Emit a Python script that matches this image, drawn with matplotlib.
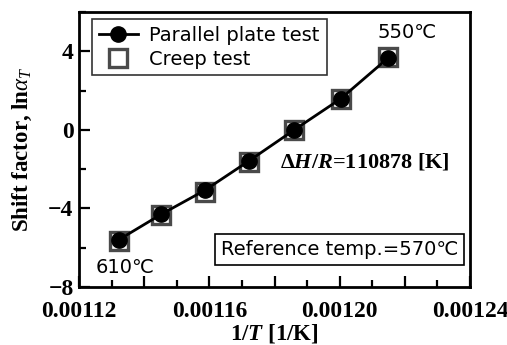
import matplotlib
matplotlib.use("Agg")
import matplotlib.pyplot as plt
from matplotlib.ticker import MultipleLocator, FuncFormatter

temps_c = [610, 600, 590, 580, 570, 560, 550]
inv_T = [1.0 / (t + 273.15) for t in temps_c]
ln_aT_plate = [-5.58, -4.29, -3.08, -1.58, 0.0, 1.58, 3.66]
ln_aT_creep = [-5.64, -4.33, -3.14, -1.64, 0.02, 1.56, 3.70]

plt.rcParams["mathtext.fontset"] = "custom"
plt.rcParams["mathtext.rm"] = "Liberation Serif"
plt.rcParams["mathtext.it"] = "Liberation Serif:italic"
plt.rcParams["mathtext.bf"] = "Liberation Serif:bold"
plt.rcParams["mathtext.bfit"] = "Liberation Serif:bold:italic"

serif = ["Liberation Serif", "DejaVu Serif"]
sans = ["DejaVu Sans", "Noto Sans CJK JP"]

fig = plt.figure(figsize=(5.07, 3.45), dpi=100)
ax = fig.add_axes([0.156, 0.168, 0.771, 0.797])

ax.plot(inv_T, ln_aT_creep, ls="none", marker="s", ms=13.5, mfc="none",
        mec="#4a4a4a", mew=2.4, label="Creep test", zorder=3)
ax.plot(inv_T, ln_aT_plate, color="black", lw=2, marker="o", ms=11,
        mfc="black", mec="black", label="Parallel plate test", zorder=4)

ax.set_xlim(0.00112, 0.00124)
ax.set_ylim(-8, 6)
ax.xaxis.set_major_locator(MultipleLocator(0.00002))
ax.xaxis.set_minor_locator(MultipleLocator(0.00001))
ax.yaxis.set_major_locator(MultipleLocator(4))
ax.yaxis.set_minor_locator(MultipleLocator(2))


def xfmt(v, pos):
    k = round((v - 0.00112) / 0.00002)
    return f"{v:.5f}" if k % 2 == 0 else ""


ax.xaxis.set_major_formatter(FuncFormatter(xfmt))
ax.yaxis.set_major_formatter(FuncFormatter(lambda v, p: f"{v:.0f}".replace("-", "\u2212")))

ax.tick_params(which="both", direction="in", top=False, right=False, width=1.6)
ax.tick_params(which="major", length=8, labelsize=17)
ax.tick_params(axis="x", which="major", pad=10)
ax.tick_params(axis="y", which="major", pad=4)
ax.tick_params(which="minor", length=5)
for lab in ax.get_xticklabels() + ax.get_yticklabels():
    lab.set_fontfamily(serif)
    lab.set_fontweight("bold")
for s in ax.spines.values():
    s.set_linewidth(2)

ax.set_xlabel(r"1/$\mathbfit{T}$ [1/K]", family=serif, fontweight="bold", fontsize=16.5, labelpad=0)
ax.set_ylabel(r"Shift factor, ln$\mathit{\alpha}_{\mathit{T}}$", family=serif,
              fontweight="bold", fontsize=16.5, labelpad=10)

handles, labels = ax.get_legend_handles_labels()
leg = ax.legend(handles[::-1], labels[::-1], loc="upper left", bbox_to_anchor=(0.033, 0.975),
                prop={"family": sans, "size": 14}, frameon=True, fancybox=False,
                edgecolor="black", borderpad=0.35, handletextpad=0.6, labelspacing=0.25,
                handlelength=2.0, borderaxespad=0)
leg.get_frame().set_linewidth(1.2)

ax.text(0.0012207, 4.95, "550\u2103", family=sans, fontsize=14, ha="center", va="center")
ax.text(0.0011341, -6.99, "610\u2103", family=sans, fontsize=14, ha="center", va="center")
ax.text(0.0012339, -1.63, r"$\mathbf{\Delta}\mathbfit{H}\mathbf{/}\mathbfit{R}$=110878 [K]",
        family=serif, fontweight="bold", fontsize=16, ha="right", va="center")
ax.text(0.0012363, -6.1, "Reference temp.=570\u2103", family=sans, fontsize=14,
        ha="right", va="center",
        bbox=dict(boxstyle="square,pad=0.3", fc="white", ec="black", lw=1.2))

fig.savefig("out.png", dpi=100)
